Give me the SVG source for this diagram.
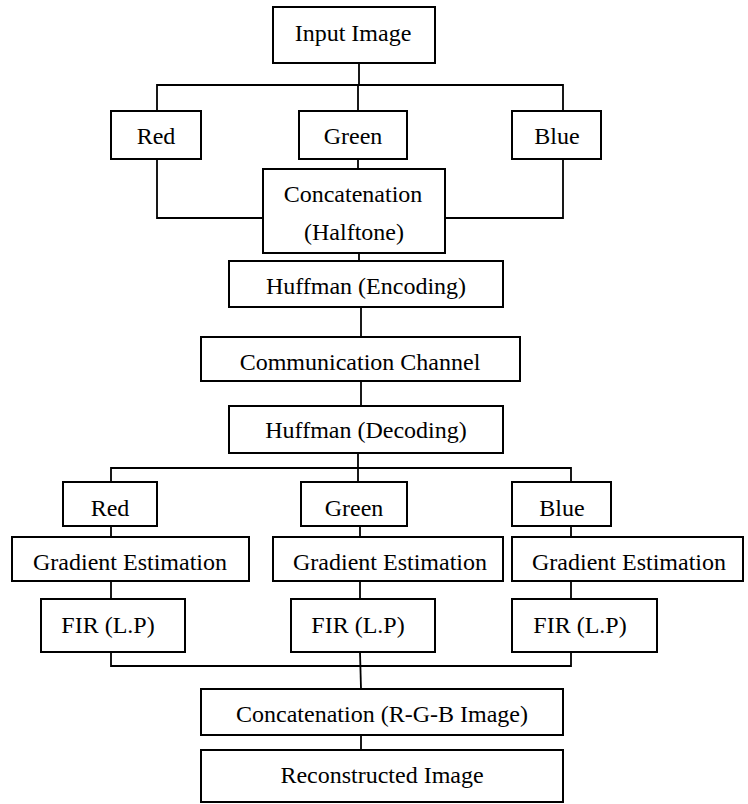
<svg xmlns="http://www.w3.org/2000/svg" width="748" height="804" viewBox="0 0 748 804">
<style>
  .box { fill: #ffffff; stroke: #000000; stroke-width: 2; }
  .ln { fill: none; stroke: #000000; stroke-width: 1.8; }
  text { font-family: "Liberation Serif", "Times New Roman", serif; font-size: 24px; fill: #000000; text-anchor: middle; }
</style>
<rect width="748" height="804" fill="#ffffff"/>
<g id="connectors">
  <polyline class="ln" points="359,63 359,85"/>
  <polyline class="ln" points="157,111 157,85 563,85 563,111"/>
  <polyline class="ln" points="358,85 358,111"/>
  <polyline class="ln" points="157,159 157,218 263,218"/>
  <polyline class="ln" points="563,159 563,218 445,218"/>
  <polyline class="ln" points="358,159 358,169"/>
  <polyline class="ln" points="359,253 359,261"/>
  <polyline class="ln" points="361,307 361,337"/>
  <polyline class="ln" points="361,381 361,406"/>
  <polyline class="ln" points="358,453 358,482"/>
  <polyline class="ln" points="111,482 111,468 571,468 571,482"/>
  <polyline class="ln" points="111,526 111,537"/>
  <polyline class="ln" points="360,526 360,537"/>
  <polyline class="ln" points="571,526 571,537"/>
  <polyline class="ln" points="111,581 111,599"/>
  <polyline class="ln" points="360,581 360,599"/>
  <polyline class="ln" points="571,581 571,599"/>
  <polyline class="ln" points="111,652 111,666 571,666 571,652"/>
  <polyline class="ln" points="360,652 361,689"/>
  <polyline class="ln" points="361,735 361,750"/>
</g>
<g id="input-image"><rect class="box" x="273" y="7" width="162" height="56"/><text x="353" y="41">Input Image</text></g>
<g id="red-1"><rect class="box" x="111" y="111" width="90" height="48"/><text x="156" y="144">Red</text></g>
<g id="green-1"><rect class="box" x="299" y="111" width="108" height="48"/><text x="353" y="144">Green</text></g>
<g id="blue-1"><rect class="box" x="512" y="111" width="89" height="48"/><text x="557" y="144">Blue</text></g>
<g id="concat-halftone"><rect class="box" x="263" y="169" width="182" height="84"/><text x="353" y="202">Concatenation</text><text x="354" y="240">(Halftone)</text></g>
<g id="huffman-encoding"><rect class="box" x="229" y="261" width="274" height="46"/><text x="366" y="294">Huffman (Encoding)</text></g>
<g id="communication-channel"><rect class="box" x="201" y="337" width="319" height="44"/><text x="360" y="370">Communication Channel</text></g>
<g id="huffman-decoding"><rect class="box" x="229" y="406" width="274" height="47"/><text x="366" y="438">Huffman (Decoding)</text></g>
<g id="red-2"><rect class="box" x="63" y="482" width="94" height="44"/><text x="110" y="516">Red</text></g>
<g id="green-2"><rect class="box" x="301" y="482" width="106" height="44"/><text x="354" y="516">Green</text></g>
<g id="blue-2"><rect class="box" x="512" y="482" width="99" height="44"/><text x="562" y="516">Blue</text></g>
<g id="gradient-red"><rect class="box" x="12" y="537" width="237" height="44"/><text x="130" y="570">Gradient Estimation</text></g>
<g id="gradient-green"><rect class="box" x="273" y="537" width="230" height="44"/><text x="390" y="570">Gradient Estimation</text></g>
<g id="gradient-blue"><rect class="box" x="512" y="537" width="231" height="44"/><text x="629" y="570">Gradient Estimation</text></g>
<g id="fir-red"><rect class="box" x="41" y="599" width="144" height="53"/><text x="108" y="633">FIR (L.P)</text></g>
<g id="fir-green"><rect class="box" x="291" y="599" width="144" height="53"/><text x="358" y="633">FIR (L.P)</text></g>
<g id="fir-blue"><rect class="box" x="512" y="599" width="145" height="53"/><text x="580" y="633">FIR (L.P)</text></g>
<g id="concat-rgb"><rect class="box" x="201" y="689" width="362" height="46"/><text x="382" y="722">Concatenation (R-G-B Image)</text></g>
<g id="reconstructed-image"><rect class="box" x="201" y="750" width="362" height="52"/><text x="382" y="783">Reconstructed Image</text></g>
</svg>
